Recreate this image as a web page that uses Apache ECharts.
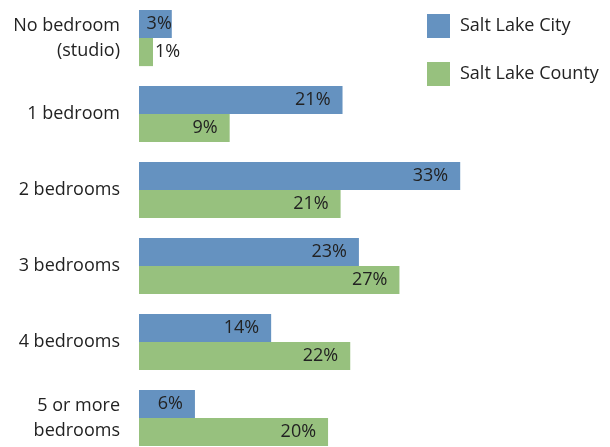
<!DOCTYPE html>
<html>
<head>
<meta charset="utf-8">
<script src="https://cdn.jsdelivr.net/npm/echarts@6/dist/echarts.min.js"></script>
<style>html,body{margin:0;padding:0;background:#fff;width:610px;height:447px;overflow:hidden;}#c{width:610px;height:456px;}</style>
</head>
<body>
<div id="c"></div>
<script>
const categories = ['No bedroom\n(studio)', '1 bedroom', '2 bedrooms', '3 bedrooms', '4 bedrooms', '5 or more\nbedrooms'];
const seriesNames = ['Salt Lake City', 'Salt Lake County'];
const cityValues = [3.4, 21.1, 33.3, 22.8, 13.7, 5.8];
const countyValues = [1.45, 9.4, 20.9, 27.0, 21.9, 19.6];
const colors = ['#6592C0', '#97C17E'];

const chart = echarts.init(document.getElementById('c'));
const font = '"Open Sans", "Noto Sans", sans-serif';
function lbl(v) { return Math.round(v) + '%'; }
function mkSeries(name, vals, color) {
  return {
    name: name, type: 'bar', barGap: '0%', barCategoryGap: '26%',
    itemStyle: { color: color },
    data: vals.map(v => ({
      value: v,
      label: {
        show: true,
        position: v < 2 ? 'right' : 'insideRight',
        distance: v < 2 ? 2 : (v < 5 ? 0 : 12),
        formatter: p => lbl(p.value),
        color: '#222', fontSize: 18, fontFamily: font
      }
    }))
  };
}
chart.setOption({
  animation: false,
  legend: {
    orient: 'vertical', left: 427, top: 14, padding: 0,
    itemWidth: 23, itemHeight: 24, itemGap: 24,
    icon: 'rect',
    textStyle: { fontSize: 18, color: '#222', fontFamily: font, padding: [0, 0, 0, 5] },
    data: seriesNames
  },
  grid: { left: 139, top: 0, bottom: 0, right: 8, containLabel: false },
  xAxis: { type: 'value', min: 0, max: 48, show: false },
  yAxis: {
    type: 'category', inverse: true, data: categories,
    axisLine: { show: false }, axisTick: { show: false },
    axisLabel: { fontSize: 18, color: '#222', fontFamily: font, margin: 19, lineHeight: 25, align: 'right' }
  },
  series: [mkSeries(seriesNames[0], cityValues, colors[0]), mkSeries(seriesNames[1], countyValues, colors[1])]
});
</script>
</body>
</html>
